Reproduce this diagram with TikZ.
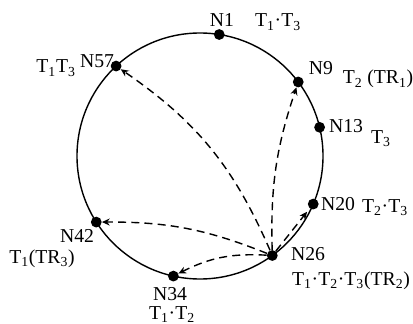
\documentclass[tikz,border=0pt]{standalone}
\usepackage{fontspec}
\setmainfont{Liberation Serif}
\usetikzlibrary{arrows.meta}
\newcommand{\tsub}[1]{T\textsubscript{#1}}

\begin{document}
\begin{tikzpicture}[x=0.025cm,y=0.025cm,
    dot/.style={circle,fill=black,inner sep=0pt,minimum size=0.27cm},
    lbl/.style={font=\fontsize{14}{16}\selectfont,inner sep=0pt,anchor=base},
    link/.style={dash pattern=on 0.2cm off 0.13cm,line width=1pt,-{Stealth[length=5.5pt,width=5pt]}}]
    \useasboundingbox (0,0) rectangle (413,323);
    \coordinate (c) at (200,167);
    \draw[line width=1pt] (c) circle[radius=123];
    \foreach \n/\a in {1/81,57/133,9/37,13/13.5,20/-23,26/-54,34/-102.5,42/-147.5}
      \node[dot] (n\n) at ([shift={(\a:123)}]c) {};
    % labels
    \node[lbl] (l1)  at (222,296) {N1};
    \node[lbl] (t1)  at (278,296) {\tsub{1}·\tsub{3}};
    \node[lbl] (l57) at (97,255)  {N57};
    \node[lbl] (t57) at (56,250)  {\tsub{1}\tsub{3}};
    \node[lbl] (l9)  at (321,248) {N9};
    \node[lbl] (t9)  at (378,239) {\tsub{2} (TR\textsubscript{1})};
    \node[lbl] (l13) at (346,190) {N13};
    \node[lbl] (t13) at (381,180) {\tsub{3}};
    \node[lbl] (l20) at (338,113) {N20};
    \node[lbl] (t20) at (385,111) {\tsub{2}·\tsub{3}};
    \node[lbl] (l26) at (308,63)  {N26};
    \node[lbl] (t26) at (351,38)  {\tsub{1}·\tsub{2}·\tsub{3}(TR\textsubscript{2})};
    \node[lbl] (l42) at (77,81)   {N42};
    \node[lbl] (t42) at (42,60)   {\tsub{1}(TR\textsubscript{3})};
    \node[lbl] (l34) at (170,23)  {N34};
    \node[lbl] (t34) at (172,4)   {\tsub{1}·\tsub{2}};
    % transfers from N26
    \draw[link] (n26) to[bend right=16] (n57);
    \draw[link] (n26) to[bend left=10] (n9);
    \draw[link,shorten >=3pt] (n26) -- (n20);
    \draw[link] (n26) to[bend right=11] (n42);
    \draw[link] (n26) to[bend right=15] (n34);
\end{tikzpicture}
\end{document}
